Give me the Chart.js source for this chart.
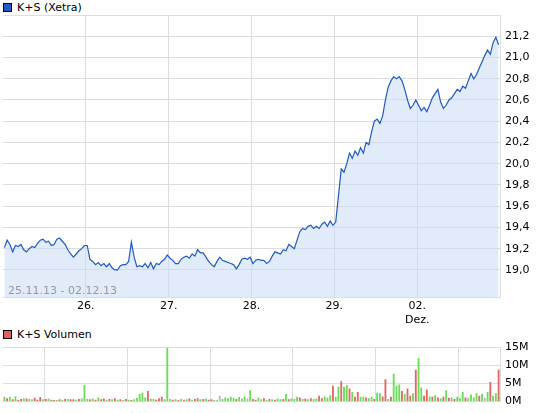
<!DOCTYPE html>
<html><head><meta charset="utf-8">
<script src="https://cdn.jsdelivr.net/npm/chart.js@4"></script>
<style>
body{margin:0;background:#fff;width:545px;height:413px;overflow:hidden;font-family:"DejaVu Sans",sans-serif}
.lg{position:absolute;left:3px;font-size:11px;color:#000;display:flex;align-items:center}
.lg span{display:inline-block;width:7px;height:7px;border:1px solid #000;margin-right:5px}
#c1{position:absolute;left:0;top:0}
#c2{position:absolute;left:0;top:336px}
#dt{position:absolute;left:8px;top:284px;font-size:11px;color:#999}
</style></head><body>
<div class="lg" style="top:1px"><span style="background:#1f5bc4"></span>K+S (Xetra)</div>
<canvas id="c1" width="545" height="326"></canvas>
<div id="dt">25.11.13 - 02.12.13</div>
<div class="lg" style="top:328px"><span style="background:#e06060"></span>K+S Volumen</div>
<canvas id="c2" width="545" height="77"></canvas>
<script>
const dayLabels=["26.","27.","28.","29.","02."];
const priceTicks=[19.0,19.2,19.4,19.6,19.8,20.0,20.2,20.4,20.6,20.8,21.0,21.2,21.4];
const p25=[19.21,19.28,19.24,19.17,19.23,19.22,19.24,19.19,19.17,19.2,19.22,19.21,19.25,19.28,19.29,19.26,19.27,19.23,19.24,19.29,19.3,19.27,19.24,19.19,19.15,19.12,19.15,19.18,19.2,19.23];
const p26=[19.23,19.1,19.08,19.05,19.07,19.04,19.06,19.03,19.06,19.02,19.0,19.0,19.04,19.05,19.05,19.08,19.26,19.12,19.03,19.04,19.03,19.06,19.02,19.07,19.01,19.06,19.05,19.08,19.1,19.14];
const p27=[19.11,19.09,19.06,19.06,19.1,19.12,19.13,19.11,19.15,19.13,19.19,19.16,19.16,19.12,19.08,19.05,19.03,19.08,19.12,19.09,19.08,19.07,19.06,19.05,19.01,19.05,19.1,19.11,19.1,19.12];
const p28=[19.06,19.09,19.1,19.09,19.09,19.06,19.08,19.13,19.17,19.16,19.15,19.19,19.18,19.24,19.22,19.2,19.28,19.36,19.39,19.38,19.41,19.42,19.39,19.41,19.39,19.43,19.45,19.41,19.46,19.42];
const p29=[19.45,19.7,19.95,19.92,20.0,20.1,20.05,20.12,20.08,20.15,20.1,20.2,20.18,20.3,20.4,20.42,20.38,20.45,20.6,20.72,20.78,20.82,20.8,20.82,20.78,20.7,20.6,20.52,20.55,20.6];
const p02=[20.55,20.5,20.53,20.49,20.55,20.62,20.66,20.7,20.58,20.52,20.55,20.6,20.62,20.66,20.7,20.68,20.73,20.71,20.78,20.85,20.8,20.84,20.9,20.96,21.02,21.07,21.03,21.14,21.19,21.12];
const v25=[1.2,0.8,1.2,0.5,1.3,0.4,0.6,0.8,0.7,0.6,0.5,0.9,0.4,1.1,0.5,0.6,0.7,0.4,0.3,0.3,0.5,0.4,0.6,0.6,0.5,0.5,0.4,0.6,0.7,4.5];
const d25="grgrgrrgrggrrrgrgrrgrgrgrrgrgg";
const v26=[0.6,0.5,0.7,0.4,1.0,0.5,0.7,0.4,0.6,0.5,0.8,0.4,0.5,0.3,0.6,0.4,0.3,0.5,0.9,2.0,2.3,1.0,2.8,0.7,0.6,0.4,0.8,1.2,0.5,14.8];
const d26="grgrgrrgrgrgrgrgrgggggrggrrrgg";
const v27=[0.6,0.4,0.5,0.3,0.6,0.4,0.5,0.7,0.4,0.6,0.8,0.5,0.6,0.7,0.4,0.5,0.3,0.4,1.5,0.6,1.0,0.8,1.2,0.9,0.6,1.1,0.7,1.3,0.8,3.0];
const d27="grgrgrgrgrrgrgrrgnngggggrgggng";
const v28=[0.6,0.4,1.0,0.5,0.8,0.4,0.6,0.5,0.4,0.7,0.5,0.6,2.0,0.5,0.8,0.6,1.2,1.0,0.6,0.7,0.5,0.8,0.6,0.7,1.5,0.8,1.3,0.9,1.6,4.3];
const d28="rrggrgrgrggrgrgggrgrgrggrrgggr";
const v29=[1.2,4.0,5.5,4.0,4.5,3.5,2.5,1.2,2.5,1.2,1.2,1.0,0.8,1.2,0.6,2.3,2.2,1.3,6.1,0.6,1.2,7.6,4.3,4.6,2.8,2.0,3.5,1.5,2.2,8.7];
const d29="ggrggrgrrggrggrggrrgrgggrgrrgr";
const v02=[12.0,3.8,1.5,3.2,1.3,1.2,1.6,1.0,0.8,1.2,3.0,0.9,1.0,0.6,1.2,0.8,2.5,1.0,0.8,1.8,1.0,2.2,1.5,2.0,0.9,2.5,5.3,1.5,2.2,8.7];
const d02="ggrrgrgrgrgrgrgggrggggrgngrggr";

const P=[p25,p26,p27,p28,p29,p02],V=[v25,v26,v27,v28,v29,v02],D=[d25,d26,d27,d28,d29,d02];
const pts=[],vol=[],vc=[];
P.forEach((a,d)=>a.forEach((v,j)=>pts.push({x:d+(j+0.5)/a.length,y:v})));
V.forEach((a,d)=>a.forEach((v,j)=>{vol.push({x:d+(j+0.5)/a.length,y:v});const c=D[d][j];vc.push(c==='g'?'#6ddc5a':c==='r'?'#e06868':'#bbbbbb');}));
const grid='#dddddd';
const font={family:'"DejaVu Sans",sans-serif',size:11};
new Chart(document.getElementById('c1'),{type:'line',
data:{datasets:[{data:pts,borderColor:'#1f5bc4',borderWidth:1.2,pointRadius:0,fill:'start',backgroundColor:'rgba(200,218,245,0.55)',tension:0}]},
options:{responsive:false,animation:false,layout:{padding:{left:3,top:15,right:0,bottom:0}},
plugins:{legend:{display:false},tooltip:{enabled:false}},
scales:{x:{type:'linear',min:0,max:6,afterBuildTicks:s=>{s.ticks=[1,2,3,4,5].map(v=>({value:v}));},
 afterFit:s=>{s.height=29;},border:{color:grid},grid:{color:grid,drawTicks:false},
 ticks:{color:'#000',font,padding:3,maxRotation:0,autoSkip:false,callback:(v)=>v===5?['02.','Dez.']:dayLabels[v-1]}},
 y:{position:'right',min:18.745,max:21.4,afterBuildTicks:s=>{s.ticks=priceTicks.map(v=>({value:v}));},
 afterFit:s=>{s.width=45;},border:{color:grid},grid:{color:grid,drawTicks:false},
 ticks:{color:'#000',font,padding:5,callback:v=>v>21.3?'':v.toFixed(1).replace('.',',')}}}}});
new Chart(document.getElementById('c2'),{type:'bar',
data:{datasets:[{data:vol,backgroundColor:vc,barThickness:1.2}]},
options:{responsive:false,animation:false,layout:{padding:{left:3,top:9,right:0,bottom:8}},
plugins:{legend:{display:false},tooltip:{enabled:false}},
scales:{x:{type:'linear',min:0,max:6,offset:false,afterBuildTicks:s=>{s.ticks=[0,1,2,3,4,5,6].map(v=>({value:v}));},
 afterFit:s=>{s.height=0;},border:{color:grid},grid:{color:grid,drawTicks:false},ticks:{display:false}},
 y:{position:'right',min:0,max:15,afterBuildTicks:s=>{s.ticks=[0,5,10,15].map(v=>({value:v}));},
 afterFit:s=>{s.width=45;},border:{color:grid},grid:{color:grid,drawTicks:false},
 ticks:{color:'#000',font,padding:5,callback:v=>v+'M'}}}}});
</script></body></html>
